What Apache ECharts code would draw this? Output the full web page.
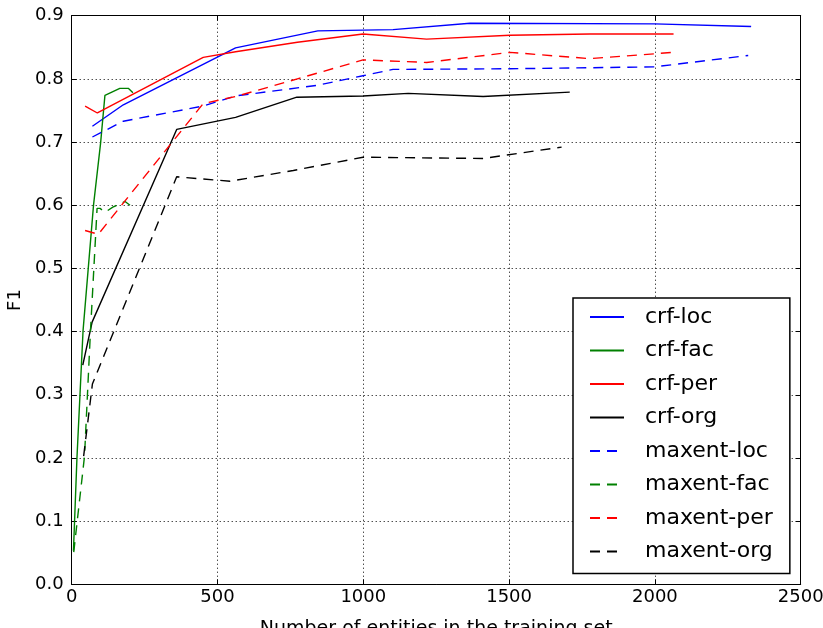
<!DOCTYPE html>
<html>
<head>
<meta charset="utf-8">
<script src="https://cdn.jsdelivr.net/npm/echarts@6/dist/echarts.min.js"></script>
<style>
html,body{margin:0;padding:0;background:#fff;}
#chart{width:823px;height:628px;}
</style>
</head>
<body>
<div id="chart"></div>
<script>
// ---- data (x = number of entities, y = F1) ----
const crfLoc = [[71,0.725],[177,0.759],[562,0.849],[844,0.876],[1102,0.878],[1366,0.888],[1998,0.887],[2330,0.883]];
const crfFac = [[6,0.053],[18,0.200],[39,0.402],[75,0.601],[99,0.698],[114,0.774],[165,0.785],[194,0.785],[210,0.778]];
const crfPer = [[46,0.757],[88,0.746],[451,0.834],[562,0.843],[774,0.858],[999,0.871],[1217,0.863],[1503,0.869],[1777,0.871],[2064,0.871]];
const crfOrg = [[38,0.347],[70,0.415],[360,0.720],[562,0.739],[772,0.771],[999,0.773],[1154,0.777],[1411,0.772],[1708,0.779]];
const maxentLoc = [[71,0.708],[177,0.733],[451,0.757],[562,0.773],[844,0.790],[999,0.805],[1102,0.815],[1503,0.816],[1998,0.819],[2320,0.837]];
const maxentFac = [[7,0.051],[44,0.203],[64,0.397],[87,0.595],[97,0.595],[115,0.589],[141,0.597],[183,0.606],[200,0.600]];
const maxentPer = [[46,0.560],[91,0.554],[451,0.761],[562,0.772],[774,0.800],[999,0.830],[1217,0.826],[1503,0.842],[1777,0.832],[2064,0.842]];
const maxentOrg = [[41,0.203],[71,0.317],[360,0.645],[543,0.638],[760,0.655],[999,0.676],[1411,0.674],[1680,0.692]];

const seriesNames = ['crf-loc','crf-fac','crf-per','crf-org','maxent-loc','maxent-fac','maxent-per','maxent-org'];
const seriesData = [crfLoc, crfFac, crfPer, crfOrg, maxentLoc, maxentFac, maxentPer, maxentOrg];
const seriesColors = ['#0000ff','#008000','#ff0000','#000000','#0000ff','#008000','#ff0000','#000000'];
const seriesDashed = [false,false,false,false,true,true,true,true];

const FONT = 'DejaVu Sans';
const chart = echarts.init(document.getElementById('chart'), null, {renderer:'canvas'});

const baseX = {
  type:'value', min:0, max:2500, interval:500,
  axisLine:{show:true, onZero:false, lineStyle:{color:'#000', width:1}},
  axisTick:{show:true, inside:true, length:5, lineStyle:{color:'#000'}},
  splitLine:{show:false}
};
const baseY = {
  type:'value', min:0, max:0.9, interval:0.1,
  axisLine:{show:true, onZero:false, lineStyle:{color:'#000', width:1}},
  axisTick:{show:true, inside:true, length:5, lineStyle:{color:'#000'}},
  splitLine:{show:false}
};

const option = {
  animation:false,
  backgroundColor:'#fff',
  grid:{left:71.7, top:15.7, right:22.3, bottom:43.7, containLabel:false, outerBoundsMode:'none'},
  xAxis:[
    Object.assign({}, baseX, {
      position:'bottom',
      name:'Number of entities in the training set',
      nameLocation:'middle', nameGap:35,
      nameTextStyle:{fontFamily:FONT, fontSize:19, color:'#000'},
      axisLabel:{fontFamily:FONT, fontSize:18, color:'#000', margin:4, formatter:v=>String(v)},
      splitLine:{show:true, lineStyle:{color:'#000', type:[1,3], width:1}}
    }),
    Object.assign({}, baseX, {position:'top', axisLabel:{show:false}})
  ],
  yAxis:[
    Object.assign({}, baseY, {
      position:'left',
      name:'F1', nameLocation:'middle', nameGap:45,
      nameTextStyle:{fontFamily:FONT, fontSize:18, color:'#000'},
      axisLabel:{fontFamily:FONT, fontSize:18, color:'#000', margin:8,
        formatter:v=>v.toFixed(1)},
      splitLine:{show:true, lineStyle:{color:'#000', type:[1,3], width:1}}
    }),
    Object.assign({}, baseY, {position:'right', axisLabel:{show:false}})
  ],
  legend:{
    orient:'vertical', left:573, top:298,
    backgroundColor:'#fff', borderColor:'#000', borderWidth:1.5,
    padding:[7,17,10,16],
    itemWidth:34, itemHeight:14, itemGap:9.5,
    itemStyle:{color:'transparent', borderWidth:0, opacity:0},
    textStyle:{fontFamily:FONT, fontSize:22, color:'#000', lineHeight:24, padding:[0,0,0,16]},
    data:seriesNames
  },
  series: seriesNames.map((n,i)=>({
    name:n, type:'line', xAxisIndex:0, yAxisIndex:0,
    data:seriesData[i], symbol:'none', showSymbol:false,
    lineStyle:{color:seriesColors[i], width:1.4, type: seriesDashed[i] ? [10,7] : 'solid'},
    itemStyle:{color:seriesColors[i]},
    z: 2
  }))
};
chart.setOption(option);
</script>
</body>
</html>
